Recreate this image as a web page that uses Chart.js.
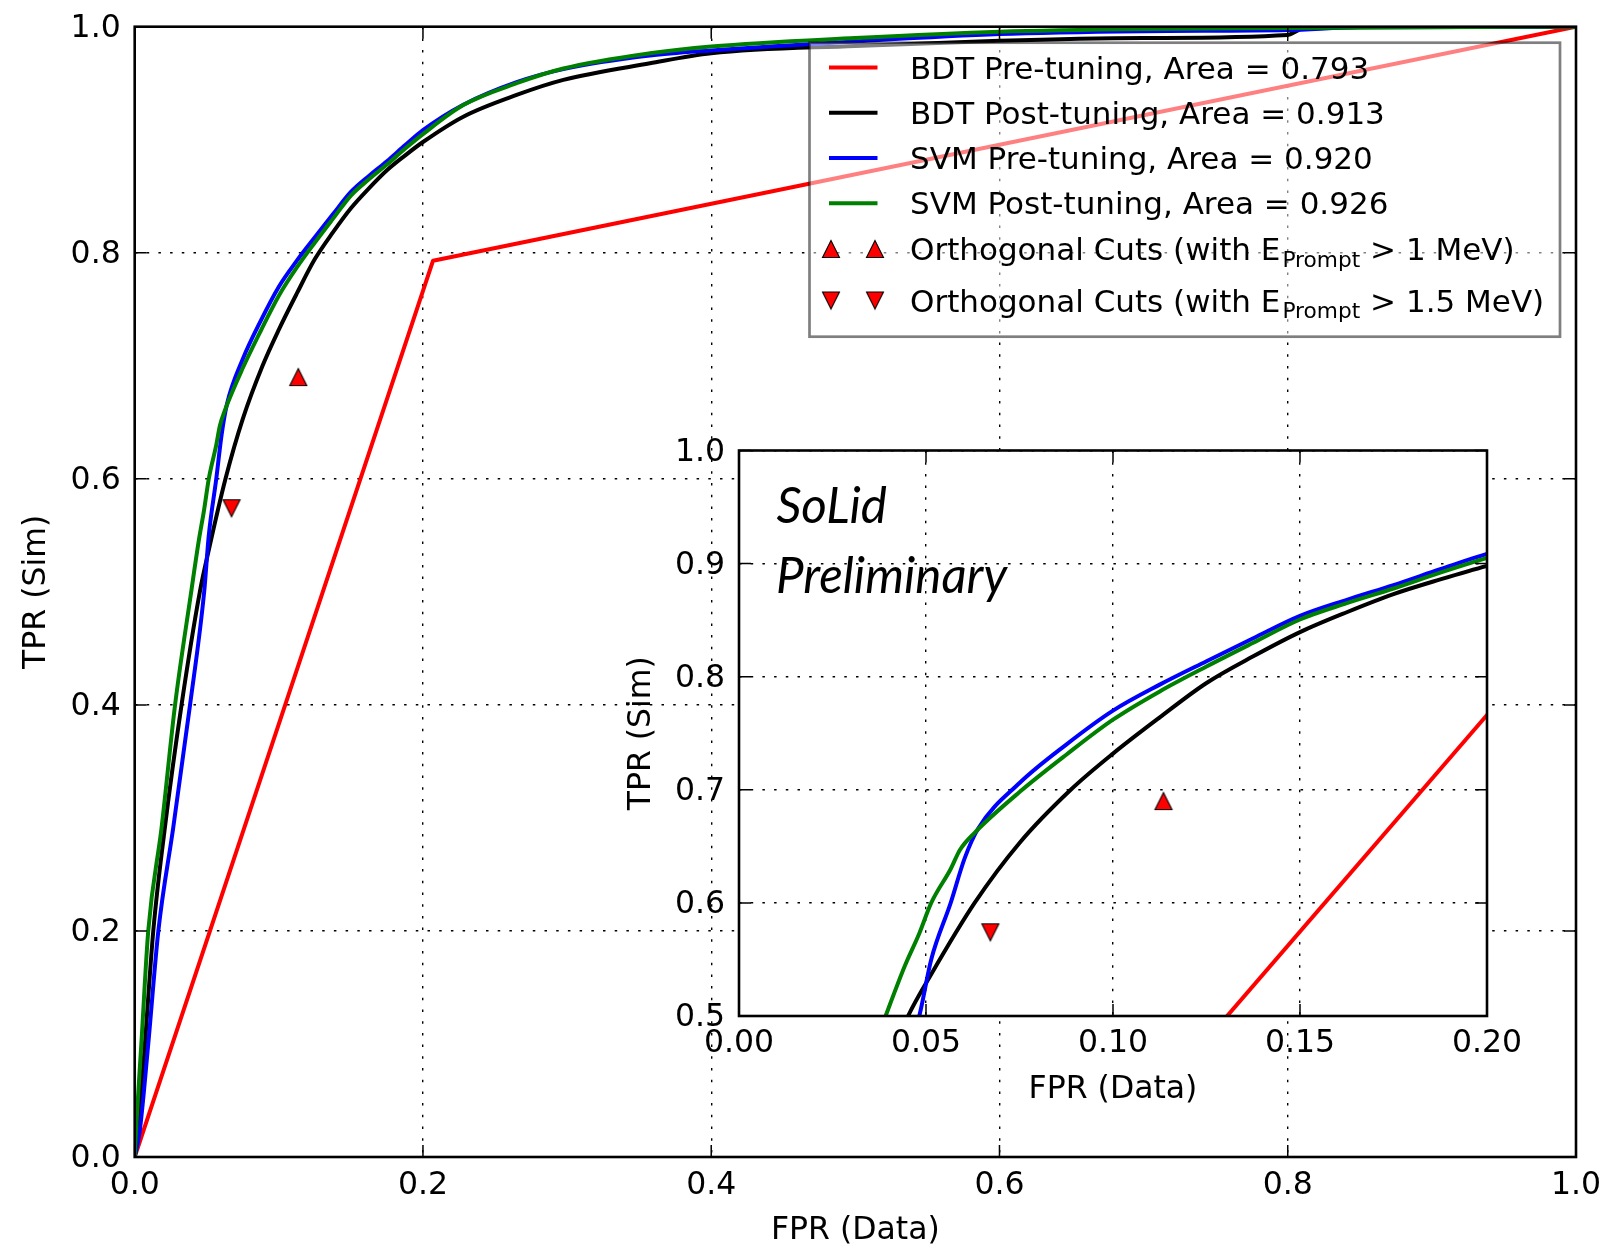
<!DOCTYPE html>
<html>
<head>
<meta charset="utf-8">
<title>ROC curves – BDT and SVM</title>
<script src="https://cdn.jsdelivr.net/npm/chart.js@4.4.1/dist/chart.umd.min.js"></script>
<style>
  html, body { margin: 0; padding: 0; background: #ffffff; }
  #wrap { position: relative; width: 1618px; height: 1247px; overflow: hidden; }
  #main { position: absolute; left: 0; top: 0; }
  #inset { position: absolute; left: 560px; top: 420px; }
</style>
</head>
<body>
<div id="wrap">
  <canvas id="main" width="1618" height="1247"></canvas>
  <canvas id="inset" width="1000" height="700"></canvas>
</div>
<script>
// ---- ROC curve data: false-positive rate (data) vs true-positive rate (sim) ----
const seriesLabels = [
  'BDT Pre-tuning, Area = 0.793',
  'BDT Post-tuning, Area = 0.913',
  'SVM Pre-tuning, Area = 0.920',
  'SVM Post-tuning, Area = 0.926'
];
const seriesColors = ['#ff0000', '#000000', '#0000ff', '#008000'];

const fprBdtPre = [0, 0.207, 1];
const tprBdtPre = [0, 0.793, 1];

const fprBdtPost = [0, 0.0025, 0.0071, 0.0129, 0.021, 0.0325, 0.0452, 0.0514, 0.063, 0.075, 0.0887,
  0.1, 0.1125, 0.125, 0.1375, 0.15, 0.1625, 0.175, 0.1875, 0.2, 0.228, 0.265, 0.2974, 0.3575,
  0.40, 0.5, 0.6, 0.7, 0.8, 0.806, 0.812, 1];
const tprBdtPost = [0, 0.023, 0.10, 0.20, 0.292, 0.40, 0.50, 0.537, 0.60, 0.653, 0.70,
  0.732, 0.764, 0.7944, 0.818, 0.8394, 0.857, 0.873, 0.886, 0.898, 0.9204, 0.9396, 0.9529, 0.9676,
  0.9765, 0.983, 0.9876, 0.990, 0.9927, 0.996, 1.0, 1];

const fprSvmPre = [0, 0.0035, 0.0094, 0.0164, 0.0268, 0.0384, 0.0482, 0.0514, 0.0566, 0.0604, 0.064,
  0.075, 0.0875, 0.1, 0.1125, 0.125, 0.1375, 0.15, 0.1625, 0.175, 0.1875, 0.2, 0.228, 0.265,
  0.2974, 0.3575, 0.40, 0.5, 0.6, 0.7, 0.8, 0.85, 1];
const tprSvmPre = [0, 0.023, 0.10, 0.20, 0.292, 0.40, 0.50, 0.55, 0.60, 0.64, 0.666,
  0.706, 0.740, 0.770, 0.793, 0.8137, 0.834, 0.8538, 0.868, 0.881, 0.895, 0.9085, 0.931, 0.951,
  0.9625, 0.9745, 0.979, 0.987, 0.9935, 0.996, 0.997, 0.9995, 1];

const fprSvmPost = [0, 0.0012, 0.0046, 0.0094, 0.0187, 0.028, 0.0392, 0.0443, 0.0482, 0.0514, 0.0566,
  0.0591, 0.063, 0.075, 0.0875, 0.1, 0.1125, 0.125, 0.1375, 0.15, 0.1625, 0.175, 0.1875, 0.2,
  0.228, 0.265, 0.2974, 0.3575, 0.40, 0.5, 0.6, 0.7, 0.8, 0.9, 1];
const tprSvmPost = [0, 0.03, 0.10, 0.20, 0.292, 0.40, 0.50, 0.544, 0.573, 0.60, 0.63,
  0.647, 0.662, 0.698, 0.731, 0.762, 0.787, 0.809, 0.830, 0.8506, 0.865, 0.878, 0.892, 0.905,
  0.9307, 0.950, 0.963, 0.9765, 0.9825, 0.990, 0.9956, 0.998, 0.9988, 0.9996, 1];

// Working points of the orthogonal cut selections
const cutLabels = [
  { head: 'Orthogonal Cuts (with E', sub: 'Prompt', tail: ' > 1 MeV)' },
  { head: 'Orthogonal Cuts (with E', sub: 'Prompt', tail: ' > 1.5 MeV)' }
];
const cut1MeVFpr = [0.1135];
const cut1MeVTpr = [0.690];
const cut15MeVFpr = [0.0672];
const cut15MeVTpr = [0.574];

// Tick values
const mainTicks = [0.0, 0.2, 0.4, 0.6, 0.8, 1.0];
const insetXTicks = [0.00, 0.05, 0.10, 0.15, 0.20];
const insetYTicks = [0.5, 0.6, 0.7, 0.8, 0.9, 1.0];

const axisTitleX = 'FPR (Data)';
const axisTitleY = 'TPR (Sim)';
const watermark = ['SoLid', 'Preliminary'];

// ---- helpers ----
const FONT = 'DejaVu Sans';
const FONT_SIZE = 31.5;

function zip(xs, ys) { return xs.map((x, i) => ({ x: x, y: ys[i] })); }

// matplotlib-style triangle markers (width == height), red with black edge
function triangleImage(up) {
  const c = document.createElement('canvas');
  c.width = 22; c.height = 22;
  const g = c.getContext('2d');
  g.beginPath();
  if (up) { g.moveTo(11, 2.5); g.lineTo(19.5, 19.5); g.lineTo(2.5, 19.5); }
  else    { g.moveTo(11, 19.5); g.lineTo(19.5, 2.5); g.lineTo(2.5, 2.5); }
  g.closePath();
  g.fillStyle = '#ff0000'; g.fill();
  g.lineWidth = 1.1; g.strokeStyle = '#000'; g.lineJoin = 'miter'; g.stroke();
  return c;
}
const triUp = triangleImage(true);
const triDown = triangleImage(false);

function makeDatasets(lw) {
  const curves = [
    [fprBdtPre, tprBdtPre], [fprBdtPost, tprBdtPost], [fprSvmPre, tprSvmPre], [fprSvmPost, tprSvmPost]
  ];
  // higher order drawn first: red, black, blue, green, then markers on top
  const orders = [5, 4, 3, 2];
  const ds = curves.map((c, i) => ({
    label: seriesLabels[i],
    data: zip(c[0], c[1]),
    showLine: true,
    borderColor: seriesColors[i],
    borderWidth: lw,
    pointRadius: 0,
    fill: false,
    cubicInterpolationMode: i === 0 ? 'default' : 'monotone',
    tension: 0,
    order: orders[i],
    borderJoinStyle: 'round'
  }));
  ds.push({ label: 'cut1', data: zip(cut1MeVFpr, cut1MeVTpr), showLine: false, pointStyle: triUp, pointRadius: 9, order: 1 });
  ds.push({ label: 'cut15', data: zip(cut15MeVFpr, cut15MeVTpr), showLine: false, pointStyle: triDown, pointRadius: 9, order: 1 });
  return ds;
}

// Frame around the plotting area with inward ticks on all four sides
const framePlugin = {
  id: 'frame',
  beforeDraw(chart, args, opts) {
    if (opts.fillArea) {
      const a = chart.chartArea, ctx = chart.ctx;
      ctx.save(); ctx.fillStyle = '#ffffff';
      ctx.fillRect(a.left, a.top, a.right - a.left, a.bottom - a.top);
      ctx.restore();
    }
  },
  afterDatasetsDraw(chart, args, opts) {
    const ctx = chart.ctx, a = chart.chartArea, sx = chart.scales.x, sy = chart.scales.y;
    const L = opts.tickLen || 12;
    ctx.save();
    ctx.strokeStyle = '#000'; ctx.lineWidth = 1.5;
    ctx.beginPath();
    sx.ticks.forEach(t => {
      const p = sx.getPixelForValue(t.value);
      ctx.moveTo(p, a.bottom); ctx.lineTo(p, a.bottom - L);
      ctx.moveTo(p, a.top); ctx.lineTo(p, a.top + L);
    });
    sy.ticks.forEach(t => {
      const p = sy.getPixelForValue(t.value);
      ctx.moveTo(a.left, p); ctx.lineTo(a.left + L, p);
      ctx.moveTo(a.right, p); ctx.lineTo(a.right - L, p);
    });
    ctx.stroke();
    ctx.lineWidth = 2.6;
    ctx.strokeRect(a.left, a.top, a.right - a.left, a.bottom - a.top);
    ctx.restore();
  }
};

// Legend of the main panel (semi-transparent box, two markers per point entry)
const legendPlugin = {
  id: 'roclegend',
  afterDraw(chart, args, opts) {
    if (!opts.show) return;
    const ctx = chart.ctx;
    const box = { x: 809.5, y: 42.7, w: 750.5, h: 294 };
    const rows = [67.5, 112.7, 158, 203.3, 249, 300.5];
    const hx0 = 829, hx1 = 877.5, tx = 910;
    ctx.save();
    ctx.fillStyle = 'rgba(255,255,255,0.5)';
    ctx.fillRect(box.x, box.y, box.w, box.h);
    ctx.strokeStyle = 'rgba(0,0,0,0.5)';
    ctx.lineWidth = 2.7;
    ctx.strokeRect(box.x, box.y, box.w, box.h);
    ctx.font = '31px "' + FONT + '"';
    ctx.textBaseline = 'alphabetic';
    ctx.textAlign = 'left';
    ctx.fillStyle = '#000';
    seriesLabels.forEach((lbl, i) => {
      const cy = rows[i];
      ctx.strokeStyle = seriesColors[i];
      ctx.lineWidth = 4;
      ctx.beginPath(); ctx.moveTo(hx0, cy); ctx.lineTo(hx1, cy); ctx.stroke();
      ctx.fillText(lbl, tx, cy + 11);
    });
    cutLabels.forEach((c, j) => {
      const cy = rows[4 + j];
      const img = j === 0 ? triUp : triDown;
      ctx.drawImage(img, 831 - 11, cy - 11);
      ctx.drawImage(img, 875 - 11, cy - 11);
      const base = cy + 11;
      ctx.font = '31px "' + FONT + '"';
      ctx.fillText(c.head, tx, base);
      let x = tx + ctx.measureText(c.head).width;
      ctx.font = '21.7px "' + FONT + '"';
      ctx.fillText(c.sub, x + 2, base + 6.5);
      x += 2 + ctx.measureText(c.sub).width;
      ctx.font = '31px "' + FONT + '"';
      ctx.fillText(c.tail, x, base);
    });
    ctx.restore();
  }
};

// Italic collaboration tag in the inset
const tagPlugin = {
  id: 'tag',
  afterDraw(chart, args, opts) {
    if (!opts.show) return;
    const ctx = chart.ctx;
    ctx.save();
    ctx.font = 'italic 51px Lato, "DejaVu Sans"';
    ctx.fillStyle = '#000';
    ctx.textBaseline = 'alphabetic';
    const sx = 231 / ctx.measureText(watermark[1]).width;
    ctx.save(); ctx.translate(216.5, 103.3); ctx.scale(sx, 1); ctx.fillText(watermark[0], 0, 0); ctx.restore();
    ctx.save(); ctx.translate(216, 173.3); ctx.scale(sx, 1); ctx.fillText(watermark[1], 0, 0); ctx.restore();
    ctx.restore();
  }
};

function axisOpts(ticks, min, max, decimals, title, isX, cfg) {
  return {
    type: 'linear',
    min: min, max: max,
    afterBuildTicks: s => { s.ticks = ticks.map(v => ({ value: v })); },
    afterFit: s => {
      if (isX) { s.height = cfg.size; }
      else { s.width = cfg.size; s.paddingTop = 0; s.paddingBottom = 0; }
    },
    ticks: {
      callback: v => Number(v).toFixed(decimals),
      font: { family: FONT, size: FONT_SIZE },
      color: '#000',
      padding: cfg.tickPad,
      labelOffset: isX ? 0 : 2,
      maxRotation: 0, minRotation: 0, autoSkip: false
    },
    grid: { color: '#000', lineWidth: 1.4, drawTicks: false },
    border: { display: false, dash: [2.5, 9.2] },
    title: {
      display: true, text: title, color: '#000',
      font: { family: FONT, size: FONT_SIZE },
      padding: cfg.titlePad
    }
  };
}

function makeChart(canvasId, o) {
  return new Chart(document.getElementById(canvasId), {
    type: 'scatter',
    data: { datasets: makeDatasets(4) },
    options: {
      responsive: false,
      animation: false,
      events: [],
      layout: { padding: { left: 0, top: o.padTop, right: o.padRight, bottom: 0 } },
      plugins: {
        legend: { display: false },
        tooltip: { enabled: false },
        frame: { fillArea: o.fillArea, tickLen: 12 },
        roclegend: { show: o.legend },
        tag: { show: o.tag }
      },
      scales: {
        x: axisOpts(o.xTicks, o.xMin, o.xMax, o.xDec, axisTitleX, true, o.xCfg),
        y: axisOpts(o.yTicks, o.yMin, o.yMax, 1, axisTitleY, false, o.yCfg)
      }
    },
    plugins: [framePlugin, legendPlugin, tagPlugin]
  });
}

// Full range panel
makeChart('main', {
  padTop: 26.7, padRight: 42,
  xTicks: mainTicks, xMin: 0, xMax: 1, xDec: 1,
  yTicks: mainTicks, yMin: 0, yMax: 1,
  xCfg: { size: 90, tickPad: 9.6, titlePad: { top: 0, bottom: -3 } },
  yCfg: { size: 134.7, tickPad: 14, titlePad: { top: 18, bottom: 0 } },
  fillArea: false, legend: true, tag: false
});

// Zoomed panel (low FPR, high TPR corner)
makeChart('inset', {
  padTop: 30.5, padRight: 73,
  xTicks: insetXTicks, xMin: 0, xMax: 0.2, xDec: 2,
  yTicks: insetYTicks, yMin: 0.5, yMax: 1.0,
  xCfg: { size: 104, tickPad: 9, titlePad: { top: 0, bottom: 11.4 } },
  yCfg: { size: 179, tickPad: 14, titlePad: { top: 62.6, bottom: 0 } },
  fillArea: true, legend: false, tag: true
});
</script>
</body>
</html>
